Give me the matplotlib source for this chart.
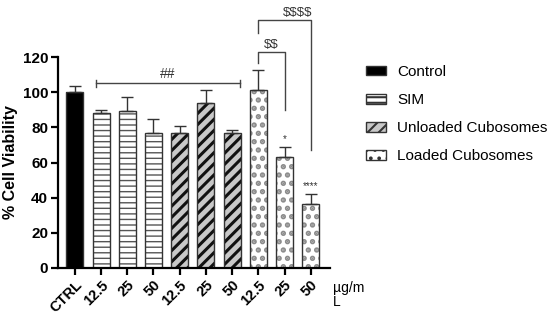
import matplotlib
matplotlib.use("Agg")
import matplotlib.pyplot as plt
from matplotlib.patches import Patch
import numpy as np

plt.rcParams['font.family'] = ['Liberation Sans', 'DejaVu Sans']
plt.rcParams['hatch.linewidth'] = 1.0

tick_labels = ["CTRL", "12.5", "25", "50", "12.5", "25", "50", "12.5", "25", "50"]
groups = ["Control", "SIM", "SIM", "SIM", "Unloaded", "Unloaded", "Unloaded", "Loaded", "Loaded", "Loaded"]
means = [100, 88, 89.5, 77, 77, 94, 77, 101, 63, 36.5]
errs = [3.5, 2, 8, 7.5, 3.5, 7.5, 1.5, 11.5, 6, 5.5]
legend_names = ["Control", "SIM", "Unloaded Cubosomes", "Loaded Cubosomes"]

styles = {
    "Control": dict(face="black", hatch=None, hcol="black", hlw=1.0),
    "SIM": dict(face="white", hatch="---", hcol="#555555", hlw=1.0),
    "Unloaded": dict(face="#c8c8c8", hatch="///", hcol="#111111", hlw=2.2),
    "Loaded": dict(face="white", hatch="..", hcol="#8c8c8c", hlw=2.6),
}

fig = plt.figure(figsize=(5.5, 3.26), dpi=100)
ax = fig.add_axes([0.105, 0.178, 0.495, 0.647])
x = np.arange(len(means))
w = 0.65
for xi, m, g in zip(x, means, groups):
    st = styles[g]
    if st["hatch"]:
        plt.rcParams['hatch.linewidth'] = st["hlw"]
        ax.bar(xi, m, width=w, color=st["face"], edgecolor=st["hcol"], hatch=st["hatch"], linewidth=0)
    else:
        ax.bar(xi, m, width=w, color=st["face"], linewidth=0)
    ax.bar(xi, m, width=w, fill=False, edgecolor="#333333", linewidth=1.0)

ax.errorbar(x, means, yerr=[np.zeros(len(errs)), errs], fmt="none", ecolor="#333333",
            elinewidth=1.0, capsize=4, capthick=1.0)

ax.set_xlim(-0.65, 9.73)
ax.set_ylim(0, 120)
ax.set_yticks([0, 20, 40, 60, 80, 100, 120])
ax.set_xticks(x)
ax.set_xticklabels(tick_labels, rotation=45, ha="right", rotation_mode="anchor", fontweight="bold", fontsize=10.5)
for lab in ax.get_yticklabels():
    lab.set_fontweight("bold")
    lab.set_fontsize(11)
ax.tick_params(axis="both", direction="out", length=5, width=1.6, pad=2)
for s in ["top", "right"]:
    ax.spines[s].set_visible(False)
for s in ["left", "bottom"]:
    ax.spines[s].set_linewidth(1.6)
ax.set_ylabel("% Cell Viability", fontweight="bold", fontsize=11.5, labelpad=3)

ax.text(9.85, -7.5, "µg/m\nL", fontsize=10, ha="left", va="top", linespacing=1.0, clip_on=False)

bc = "#444444"
# ## bracket
ax.plot([0.8, 6.3], [105, 105], color=bc, lw=1, clip_on=False)
ax.plot([0.8, 0.8], [103, 107], color=bc, lw=1, clip_on=False)
ax.plot([6.3, 6.3], [103, 107], color=bc, lw=1, clip_on=False)
ax.text(3.55, 106.5, "##", ha="center", va="bottom", fontsize=10, color="#333333")
# $$ bracket
ax.plot([7, 7, 8, 8], [116.5, 122.7, 122.7, 89.8], color=bc, lw=1, clip_on=False)
ax.text(7.5, 123.5, "$$", ha="center", va="bottom", fontsize=9.5, color="#333333", parse_math=False)
# $$$$ bracket
ax.plot([7, 7, 9, 9], [133.5, 141, 141, 67], color=bc, lw=1, clip_on=False)
ax.text(8.5, 141.8, "$$$$", ha="center", va="bottom", fontsize=9.5, color="#333333", parse_math=False)
# stars
ax.text(8, 70.5, "*", ha="center", va="bottom", fontsize=7, color="#333333")
ax.text(9, 43.5, "****", ha="center", va="bottom", fontsize=7, color="#333333")

handles = []
for name, key in zip(legend_names, ["Control", "SIM", "Unloaded", "Loaded"]):
    st = styles[key]
    handles.append(Patch(facecolor=st["face"], edgecolor="#333333", hatch=st["hatch"], linewidth=1))
plt.rcParams['hatch.linewidth'] = 1.5
fig.legend(handles, legend_names, loc="upper left", bbox_to_anchor=(0.66, 0.81), frameon=False,
           fontsize=11, handlelength=1.3, handleheight=0.6, labelspacing=0.92, handletextpad=0.75,
           borderaxespad=0, borderpad=0.2)

fig.savefig("out.png", dpi=100)
